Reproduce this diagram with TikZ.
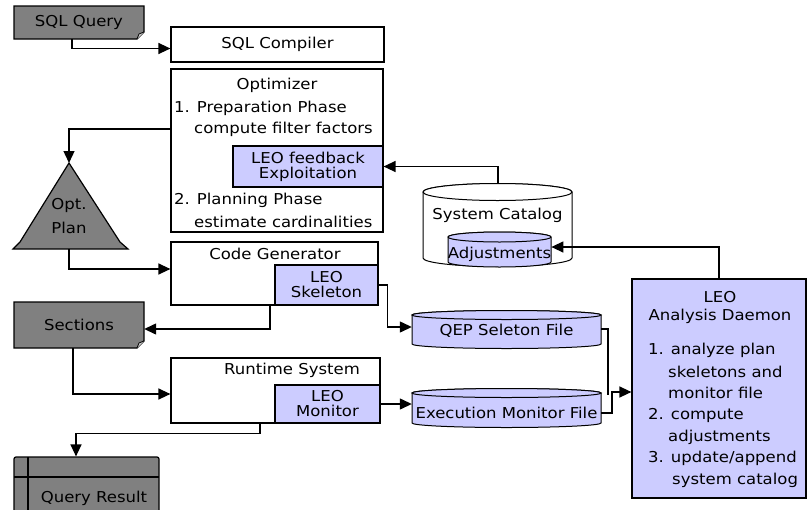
\documentclass[tikz,border=0pt]{standalone}
\usepackage{fontspec}
\setmainfont{DejaVu Sans}[FakeStretch=1.1]
\usetikzlibrary{arrows.meta}
\definecolor{docgray}{RGB}{128,128,128}
\definecolor{leoblue}{RGB}{204,204,255}

% cylinder: x0, x1, centre y of top ellipse, centre y of bottom ellipse, half height of ellipse, fill
\newcommand{\drawcyl}[6]{%
  \filldraw[fill=#6, draw=black, line width=1pt]
    (#1,#3) -- (#1,#4)
    arc[start angle=180, end angle=360, x radius={(#2-#1)/2*1pt}, y radius={#5*1pt}]
    -- (#2,#3)
    arc[start angle=0, end angle=180, x radius={(#2-#1)/2*1pt}, y radius={#5*1pt}]
    -- cycle;
  \filldraw[fill=#6, draw=black, line width=1pt]
    ({(#1+#2)/2},#3) ellipse[x radius={(#2-#1)/2*1pt}, y radius={#5*1pt}];
}
% document sheet with a curled lower right corner: x0, y0, x1, y1
\newcommand{\drawdoc}[4]{%
  \filldraw[fill=docgray, draw=black, line width=1.2pt]
    (#1,#2) -- (#3,#2) -- (#3,{#4-7}) -- ({#3-7},#4) -- (#1,#4) -- cycle;
  \filldraw[fill=gray!35, draw=black, line width=0.8pt]
    (#3,{#4-7}) -- ({#3-5},{#4-5}) -- ({#3-7},#4);
}

\tikzset{
  box/.style={draw, line width=1.2pt, fill=white, inner sep=0pt},
  leo/.style={box, fill=leoblue, align=center},
  txt/.style={inner sep=0pt},
  hold/.style={inner sep=0pt, minimum height=14pt},
  arr/.style={line width=1.3pt, -{Triangle[length=12pt,width=11pt]}},
  wire/.style={line width=1.3pt},
}

\begin{document}
\begin{tikzpicture}[x=1pt, y=-1pt, font=\fontsize{15}{17}\selectfont]
\useasboundingbox (0,0) rectangle (808,509);
\fill[white] (0,0) rectangle (808,509);

% ---- source query and compiler
\drawdoc{14}{6}{144}{39}
\node[txt, minimum width=130pt, minimum height=33pt] (sqlq) at (79,22.5) {SQL Query};
\node[box, minimum width=213pt, minimum height=35pt] (comp) at (277.5,44.5) {SQL Compiler};

% ---- optimizer
\node[box, minimum width=212pt, minimum height=163pt] (opt) at (277,150.5) {};
\node[txt] (optT) at (277,85) {Optimizer};
\node[txt, anchor=west] (prep) at (174,108) {1. Preparation Phase};
\node[txt, anchor=west] (filt) at (194,129) {compute filter factors};
\node[leo, minimum width=150pt, minimum height=41pt] (fb) at (308,166.5) {LEO feedback\\[-2pt]Exploitation};
\node[txt, anchor=west] (plan) at (174,200) {2. Planning Phase};
\node[txt, anchor=west] (card) at (194,222) {estimate cardinalities};

% ---- optimized plan
\filldraw[fill=docgray, draw=black, line width=1.2pt]
  (69,163) -- (120,242) -- (128,249) -- (13,249) -- (20,242) -- cycle;
\coordinate (tri-top) at (69,163);
\coordinate (tri-bot) at (69,249);
\node[txt] (optp) at (69,205) {Opt.};
\node[txt] (planp) at (69,228) {Plan};

% ---- code generator
\node[box, minimum width=207pt, minimum height=63pt] (cg) at (274.5,273.5) {};
\node[txt] (cgT) at (275,254) {Code Generator};
\node[leo, minimum width=103pt, minimum height=40pt] (skel) at (326.5,285) {LEO\\[-2pt]Skeleton};

% ---- sections
\drawdoc{14}{302}{144}{348}
\node[txt, minimum width=130pt, minimum height=46pt] (sec) at (79,325) {Sections};

% ---- runtime system
\node[box, minimum width=209pt, minimum height=65pt] (rt) at (275.5,390.5) {};
\node[txt] (rtT) at (292,370) {Runtime System};
\node[leo, minimum width=105pt, minimum height=38pt] (mon) at (327.5,404) {LEO\\[-2pt]Monitor};

% ---- query result
\node[draw, line width=1.2pt, fill=docgray, rounded corners=2pt, minimum width=145pt, minimum height=64pt, inner sep=0pt] (qr) at (86.5,489) {};
\draw[line width=1.2pt] (28,457) -- (28,515);
\draw[line width=1.2pt] (14,477) -- (159,477);
\node[txt] (qrT) at (94,498) {Query Result};

% ---- system catalog
\drawcyl{423}{572}{192}{258}{8.5}{white}
\coordinate (scat-top) at (498,183.5);
\node[txt] (scat) at (497.5,215) {System Catalog};
\drawcyl{448}{551}{237}{262}{5}{leoblue}
\node[hold, minimum width=103pt] (adj) at (499.5,254) {Adjustments};

% ---- feedback files
\drawcyl{412}{601}{315}{344}{4.5}{leoblue}
\node[hold, minimum width=189pt] (qep) at (506.5,331) {QEP Seleton File};
\drawcyl{412}{601}{393}{423}{4.5}{leoblue}
\node[hold, minimum width=189pt] (exec) at (506.5,413) {Execution Monitor File};

% ---- analysis daemon
\node[leo, minimum width=174pt, minimum height=219pt] (dm) at (719,388.5) {};
\node[txt] (dmA) at (720,297) {LEO};
\node[txt] (dmB) at (720,316) {Analysis Daemon};
\node[txt, anchor=west] (d1) at (648,350) {1. analyze plan};
\node[txt, anchor=west] (d2) at (668,372) {skeletons and};
\node[txt, anchor=west] (d3) at (668,393) {monitor file};
\node[txt, anchor=west] (d4) at (648,415) {2. compute};
\node[txt, anchor=west] (d5) at (668,437) {adjustments};
\node[txt, anchor=west] (d6) at (648,458) {3. update/append};
\node[txt, anchor=west] (d7) at (672,480) {system catalog};

% ---- connectors
\coordinate (j1) at (608,395);
\coordinate (j2) at (612,392);
\draw[arr] ([xshift=-7pt]sqlq.south) |- ([yshift=-4pt]comp.west);
\draw[arr] ([yshift=21.5pt]opt.west) -| (tri-top);
\draw[arr] (tri-bot) |- ([yshift=4.5pt]cg.west);
\draw[arr] ([xshift=-4.5pt]cg.south) |- ([yshift=-4pt]sec.east);
\draw[arr] (skel.east) -- ++(9,0) |- ([yshift=4pt]qep.west);
\draw[arr] ([xshift=-6pt]sec.south) |- ([yshift=-3.5pt]rt.west);
\draw[arr] (mon.east) -- (mon.east -| exec.west);
\draw[arr] ([xshift=-15.5pt]rt.south) -- ++(0,10) -| ([xshift=-10.5pt]qr.north);
\draw[arr] (scat-top) |- (fb.east);
\draw[arr] (dm.north) |- ([yshift=7pt]adj.east);
\draw[wire] ([yshift=2pt]qep.east) -| (j1);
\draw[arr] (exec.east) -| (j2) -- (dm.west |- j2);
\end{tikzpicture}
\end{document}
